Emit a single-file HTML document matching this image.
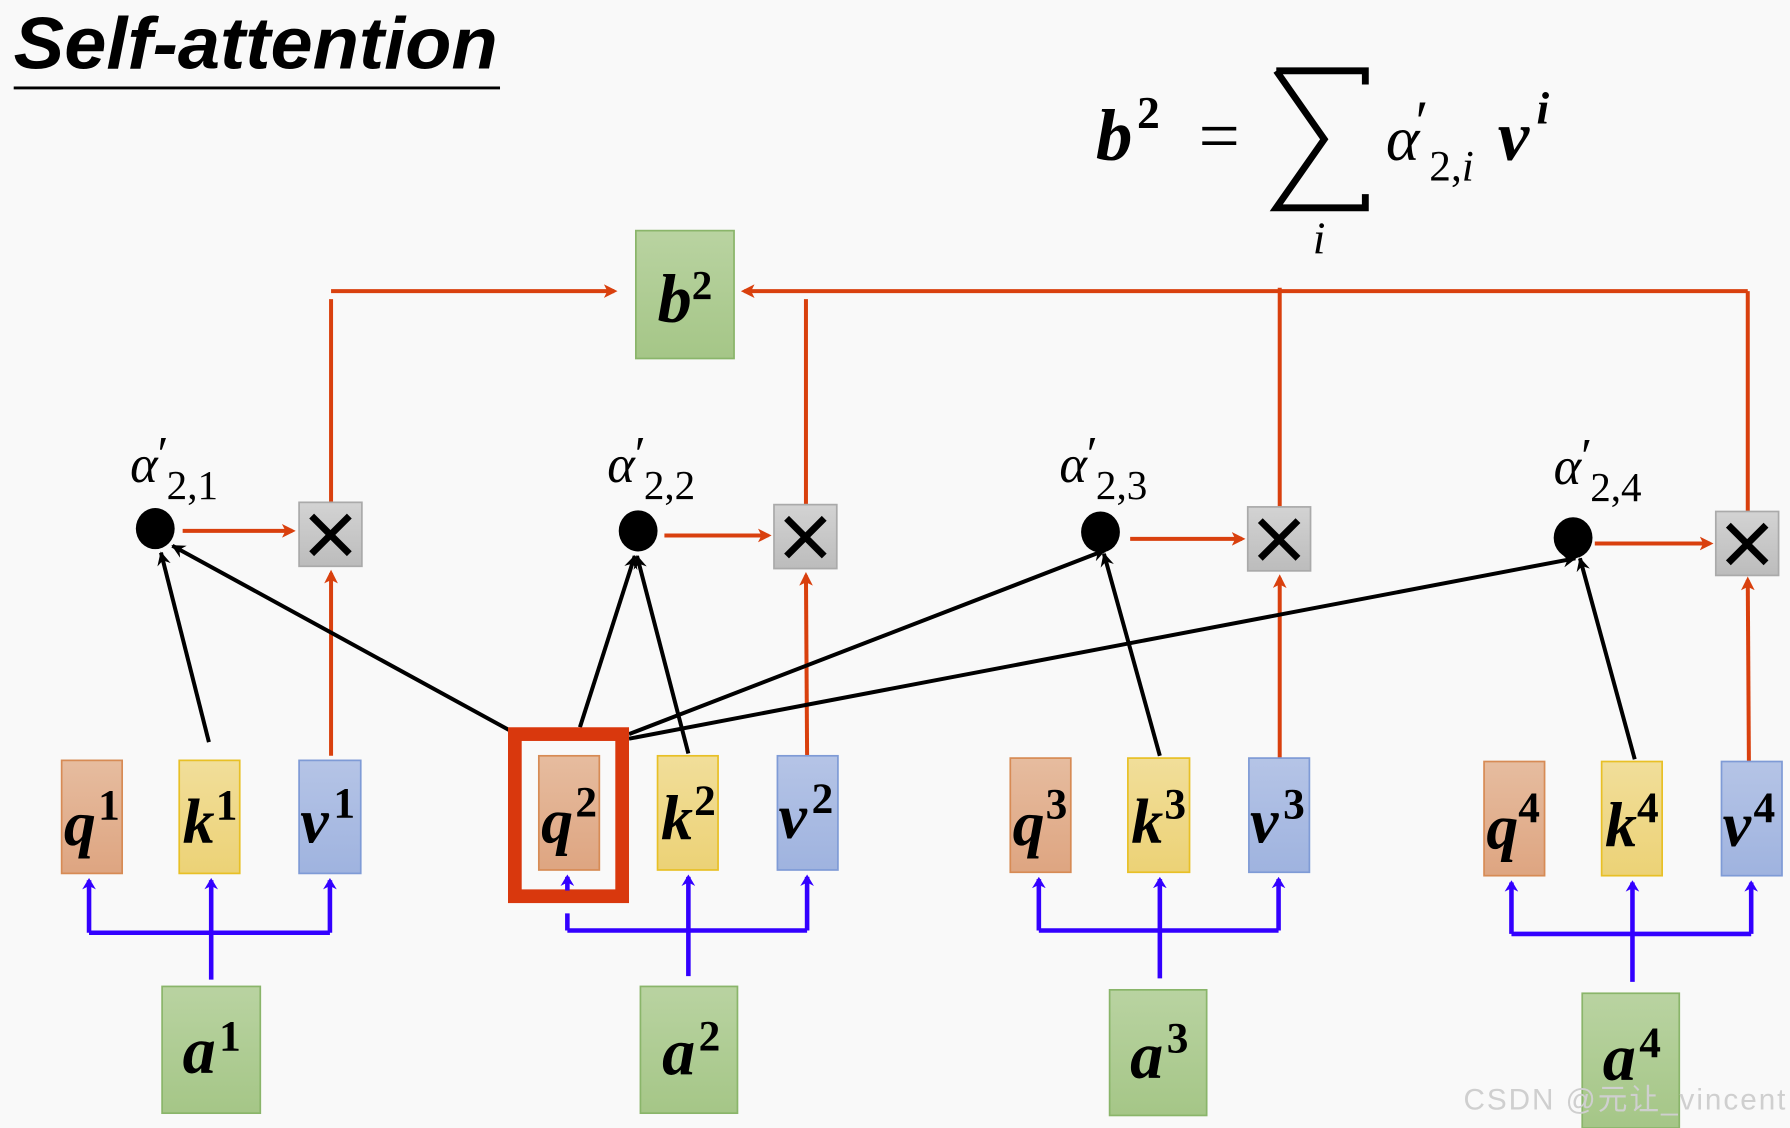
<!DOCTYPE html>
<html><head><meta charset="utf-8"><style>
html,body{margin:0;padding:0;background:#f9f9f9;}
svg{display:block}
.m{font-family:"Liberation Serif",serif;font-weight:bold;font-style:italic;}
.s{font-family:"Liberation Serif",serif;font-style:normal;font-weight:bold;}
</style></head><body>
<svg width="1790" height="1128" viewBox="0 0 1568 988" preserveAspectRatio="none" xmlns="http://www.w3.org/2000/svg">
<defs>
<linearGradient id="gg" x1="0" y1="0" x2="0" y2="1"><stop offset="0" stop-color="#b9d3a1"/><stop offset="1" stop-color="#a5c687"/></linearGradient>
<linearGradient id="go" x1="0" y1="0" x2="0" y2="1"><stop offset="0" stop-color="#e6bc9f"/><stop offset="1" stop-color="#dea581"/></linearGradient>
<linearGradient id="gy" x1="0" y1="0" x2="0" y2="1"><stop offset="0" stop-color="#f1de9a"/><stop offset="1" stop-color="#ecd276"/></linearGradient>
<linearGradient id="gb" x1="0" y1="0" x2="0" y2="1"><stop offset="0" stop-color="#b5c4e6"/><stop offset="1" stop-color="#9fb3df"/></linearGradient>
<linearGradient id="gx" x1="0" y1="0" x2="0" y2="1"><stop offset="0" stop-color="#d3d3d3"/><stop offset="1" stop-color="#bcbcbc"/></linearGradient>
<marker id="ar" markerWidth="12" markerHeight="12" refX="9" refY="6" orient="auto" markerUnits="userSpaceOnUse"><path d="M0,0 L12,6 L0,12 L3,6 Z" fill="#d9400e"/></marker>
<marker id="ab" markerWidth="10" markerHeight="12" refX="8" refY="6" orient="auto" markerUnits="userSpaceOnUse"><path d="M0,0 L10,6 L0,12 L3,6 Z" fill="#3300ff"/></marker>
<marker id="ak" markerWidth="14" markerHeight="12" refX="11" refY="6" orient="auto" markerUnits="userSpaceOnUse"><path d="M0,0 L12,6 L0,12 L4,6 Z" fill="#000"/></marker>
</defs>
<rect width="1568" height="988" fill="#f9f9f9"/>
<text x="12" y="60" font-family="Liberation Sans,sans-serif" font-weight="bold" font-style="italic" font-size="64" fill="#000" textLength="424" lengthAdjust="spacingAndGlyphs">Self-attention</text>
<line x1="12" y1="77" x2="438" y2="77" stroke="#000" stroke-width="2.5"/>
<!-- formula -->
<text x="960" y="140" class="m" font-size="64">b</text>
<text x="996" y="112" class="s" font-size="40">2</text>
<text x="1050" y="140" font-family="Liberation Serif,serif" font-size="64">=</text>
<path d="M1118,62 L1196,62 L1196,74 M1118,62 L1160,122 L1118,182 L1196,182 L1196,170" fill="none" stroke="#000" stroke-width="6"/>
<text x="1150" y="222" font-family="Liberation Serif,serif" font-style="italic" font-size="40">i</text>
<text x="1214" y="140" font-family="Liberation Serif,serif" font-style="italic" font-size="56">α</text>
<text x="1240" y="124" font-family="Liberation Serif,serif" font-size="52">′</text>
<text x="1252" y="158" font-family="Liberation Serif,serif" font-size="38">2,<tspan font-style="italic">i</tspan></text>
<text x="1312" y="140" class="m" font-size="62">v</text>
<text x="1346" y="108" font-family="Liberation Serif,serif" font-style="italic" font-weight="bold" font-size="40">i</text>
<!-- b2 -->
<rect x="557" y="202" width="86" height="112" fill="url(#gg)" stroke="#8ab56a" stroke-width="1.5"/>
<text x="576" y="282" class="m" font-size="60">b</text><text x="606" y="262" class="s" font-size="36">2</text>
<!-- red output lines -->
<g stroke="#d9400e" stroke-width="3.5" fill="none">
<line x1="290" y1="255" x2="538" y2="255" marker-end="url(#ar)"/>
<line x1="1531" y1="255" x2="652" y2="255" marker-end="url(#ar)"/>
<line x1="290" y1="262" x2="290" y2="440"/>
<line x1="706" y1="262" x2="706" y2="442"/>
<line x1="1121" y1="252" x2="1121" y2="444"/>
<line x1="1531" y1="255" x2="1531" y2="448"/>
<line x1="160" y1="465" x2="256" y2="465" marker-end="url(#ar)"/>
<line x1="582" y1="469" x2="673" y2="469" marker-end="url(#ar)"/>
<line x1="990" y1="472" x2="1088" y2="472" marker-end="url(#ar)"/>
<line x1="1397" y1="476" x2="1498" y2="476" marker-end="url(#ar)"/>
<line x1="290" y1="662" x2="290" y2="502" marker-end="url(#ar)"/>
<line x1="707" y1="662" x2="706" y2="504" marker-end="url(#ar)"/>
<line x1="1121" y1="665" x2="1121" y2="506" marker-end="url(#ar)"/>
<line x1="1532" y1="668" x2="1531" y2="508" marker-end="url(#ar)"/>
</g>
<!-- X boxes -->
<g stroke="#aaa" stroke-width="1.5" fill="url(#gx)">
<rect x="262" y="440" width="55" height="56"/><rect x="678" y="442" width="55" height="56"/>
<rect x="1093" y="444" width="55" height="56"/><rect x="1503" y="448" width="55" height="56"/>
</g>
<g stroke="#000" stroke-width="6">
<path d="M273,452 L306,485 M306,452 L273,485"/><path d="M689,454 L722,487 M722,454 L689,487"/>
<path d="M1104,456 L1137,489 M1137,456 L1104,489"/><path d="M1514,460 L1547,493 M1547,460 L1514,493"/>
</g>
<!-- dots -->
<ellipse cx="136" cy="463" rx="17" ry="18"/><ellipse cx="559" cy="465" rx="17" ry="18"/>
<ellipse cx="964" cy="466" rx="17" ry="18"/><ellipse cx="1378" cy="471" rx="17" ry="18"/>
<g font-family="Liberation Serif,serif" fill="#000">
<text x="114" y="422" font-style="italic" font-size="46">α</text><text x="138" y="412" font-size="44">′</text><text x="146" y="437" font-size="36">2,1</text>
<text x="532" y="422" font-style="italic" font-size="46">α</text><text x="556" y="412" font-size="44">′</text><text x="564" y="437" font-size="36">2,2</text>
<text x="928" y="422" font-style="italic" font-size="46">α</text><text x="952" y="412" font-size="44">′</text><text x="960" y="437" font-size="36">2,3</text>
<text x="1361" y="424" font-style="italic" font-size="46">α</text><text x="1385" y="414" font-size="44">′</text><text x="1393" y="439" font-size="36">2,4</text>
</g>
<!-- black arrows -->
<g stroke="#000" stroke-width="3.5" fill="none">
<line x1="183" y1="650" x2="141" y2="484" marker-end="url(#ak)"/>
<line x1="447" y1="640" x2="151" y2="478" marker-end="url(#ak)"/>
<line x1="508" y1="637" x2="556" y2="487" marker-end="url(#ak)"/>
<line x1="603" y1="660" x2="558" y2="487" marker-end="url(#ak)"/>
<line x1="551" y1="643" x2="968" y2="482" marker-end="url(#ak)"/>
<line x1="551" y1="647" x2="1380" y2="489" marker-end="url(#ak)"/>
<line x1="1016" y1="662" x2="967" y2="485" marker-end="url(#ak)"/>
<line x1="1432" y1="665" x2="1384" y2="489" marker-end="url(#ak)"/>
</g>
<!-- qkv boxes -->
<g stroke-width="1.5">
<rect x="54" y="666" width="53" height="99" fill="url(#go)" stroke="#d78b55"/>
<rect x="157" y="666" width="53" height="99" fill="url(#gy)" stroke="#e8c026"/>
<rect x="262" y="666" width="54" height="99" fill="url(#gb)" stroke="#7f9bd6"/>
<rect x="472" y="662" width="53" height="100" fill="url(#go)" stroke="#d78b55"/>
<rect x="576" y="662" width="53" height="100" fill="url(#gy)" stroke="#e8c026"/>
<rect x="681" y="662" width="53" height="100" fill="url(#gb)" stroke="#7f9bd6"/>
<rect x="885" y="664" width="53" height="100" fill="url(#go)" stroke="#d78b55"/>
<rect x="988" y="664" width="54" height="100" fill="url(#gy)" stroke="#e8c026"/>
<rect x="1094" y="664" width="53" height="100" fill="url(#gb)" stroke="#7f9bd6"/>
<rect x="1300" y="667" width="53" height="100" fill="url(#go)" stroke="#d78b55"/>
<rect x="1403" y="667" width="53" height="100" fill="url(#gy)" stroke="#e8c026"/>
<rect x="1508" y="667" width="53" height="100" fill="url(#gb)" stroke="#7f9bd6"/>
</g>
<g class="m" font-size="56" fill="#000">
<text x="56" y="740">q</text><text x="160" y="738">k</text><text x="263" y="738">v</text>
<text x="474" y="738">q</text><text x="579" y="735">k</text><text x="682" y="734">v</text>
<text x="887" y="740">q</text><text x="991" y="738">k</text><text x="1095" y="738">v</text>
<text x="1302" y="743">q</text><text x="1406" y="741">k</text><text x="1509" y="741">v</text>
</g>
<g class="s" font-size="38" fill="#000">
<text x="86" y="718">1</text><text x="189" y="718">1</text><text x="292" y="716">1</text>
<text x="504" y="715">2</text><text x="608" y="714">2</text><text x="711" y="712">2</text>
<text x="916" y="717">3</text><text x="1020" y="717">3</text><text x="1124" y="717">3</text>
<text x="1330" y="720">4</text><text x="1434" y="720">4</text><text x="1536" y="720">4</text>
</g>
<rect x="451" y="643" width="94" height="142" fill="none" stroke="#d9380d" stroke-width="12"/>
<!-- blue -->
<g stroke="#3300ff" stroke-width="4" fill="none">
<path d="M78,817 L289,817 M185,817 L185,858"/>
<line x1="78" y1="817" x2="78" y2="771" marker-end="url(#ab)"/><line x1="185" y1="817" x2="185" y2="771" marker-end="url(#ab)"/><line x1="289" y1="817" x2="289" y2="771" marker-end="url(#ab)"/>
<path d="M497,815 L707,815 M603,815 L603,855 M497,815 L497,800"/>
<line x1="497" y1="780" x2="497" y2="768" marker-end="url(#ab)"/><line x1="603" y1="815" x2="603" y2="768" marker-end="url(#ab)"/><line x1="707" y1="815" x2="707" y2="768" marker-end="url(#ab)"/>
<path d="M910,815 L1120,815 M1016,815 L1016,857"/>
<line x1="910" y1="815" x2="910" y2="770" marker-end="url(#ab)"/><line x1="1016" y1="815" x2="1016" y2="770" marker-end="url(#ab)"/><line x1="1120" y1="815" x2="1120" y2="770" marker-end="url(#ab)"/>
<path d="M1324,818 L1534,818 M1430,818 L1430,860"/>
<line x1="1324" y1="818" x2="1324" y2="773" marker-end="url(#ab)"/><line x1="1430" y1="818" x2="1430" y2="773" marker-end="url(#ab)"/><line x1="1534" y1="818" x2="1534" y2="773" marker-end="url(#ab)"/>
</g>
<!-- a boxes -->
<g stroke="#8ab56a" stroke-width="1.5" fill="url(#gg)">
<rect x="142" y="864" width="86" height="111"/><rect x="561" y="864" width="85" height="111"/>
<rect x="972" y="867" width="85" height="110"/><rect x="1386" y="870" width="85" height="118"/>
</g>
<g class="m" font-size="58" fill="#000">
<text x="160" y="940">a</text><text x="580" y="941">a</text><text x="990" y="944">a</text><text x="1404" y="946">a</text>
</g>
<g class="s" font-size="38" fill="#000">
<text x="192" y="920">1</text><text x="612" y="920">2</text><text x="1022" y="922">3</text><text x="1436" y="926">4</text>
</g>
<text x="1282" y="972" font-family="Liberation Sans,'Noto Sans CJK SC',sans-serif" font-size="26" fill="#cfcfcf" textLength="282">CSDN @元让_vincent</text>
</svg>
</body></html>
